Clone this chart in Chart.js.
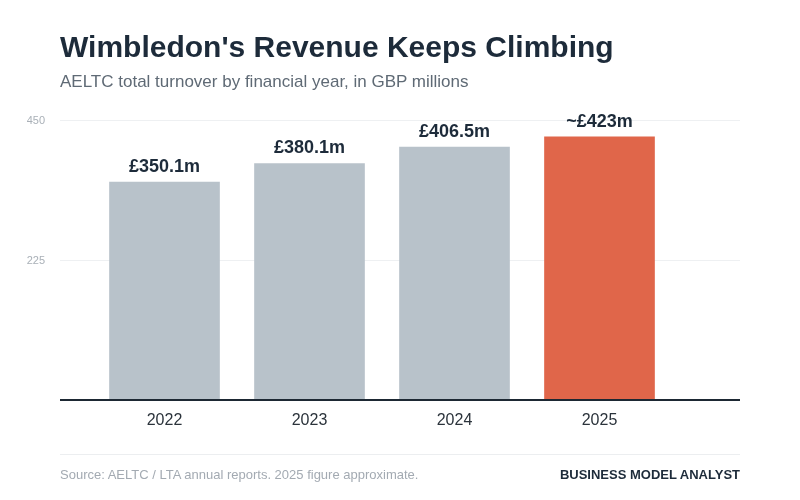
<!DOCTYPE html>
<html>
<head>
<meta charset="utf-8">
<script src="https://cdn.jsdelivr.net/npm/chart.js@4"></script>
<style>
  body { margin: 0; background: #ffffff; font-family: "Liberation Sans", Arial, sans-serif; }
  #wrap { position: relative; width: 800px; height: 500px; }
  #myChart { position: absolute; left: 0; top: 0; }
  .title { position: absolute; left: 60px; top: 30px; font-size: 30px; font-weight: bold; color: #1d2b3a; white-space: nowrap; }
  .subtitle { position: absolute; left: 60px; top: 72px; font-size: 17px; color: #5f6a75; white-space: nowrap; }
  .rule { position: absolute; left: 60px; top: 454px; width: 680px; height: 1px; background: #eceef0; }
  .source { position: absolute; left: 60px; top: 467px; font-size: 13px; color: #a3aab2; white-space: nowrap; }
  .brand { position: absolute; right: 60px; top: 467px; font-size: 13px; font-weight: bold; color: #1d2b3a; white-space: nowrap; }
</style>
</head>
<body>
<div id="wrap">
  <canvas id="myChart" width="800" height="500"></canvas>
  <div class="title">Wimbledon's Revenue Keeps Climbing</div>
  <div class="subtitle">AELTC total turnover by financial year, in GBP millions</div>
  <div class="rule"></div>
  <div class="source">Source: AELTC / LTA annual reports. 2025 figure approximate.</div>
  <div class="brand">BUSINESS MODEL ANALYST</div>
</div>
<script>
let years = ['2022', '2023', '2024', '2025'];
let revenue = [350.1, 380.1, 406.5, 423];
let valueLabels = ['£350.1m', '£380.1m', '£406.5m', '~£423m'];
let yTicks = [225, 450];
let barColors = ['#b8c2ca', '#b8c2ca', '#b8c2ca', '#e0664a'];

// grid lines + y labels drawn wide (60 -> 740), plus dark baseline
const gridPlugin = {
    id: 'wideGrid',
    beforeDatasetsDraw(chart) {
        const ctx = chart.ctx;
        const y = chart.scales.y;
        ctx.save();
        ctx.font = '11px "Liberation Sans", Arial, sans-serif';
        ctx.fillStyle = '#a9b0b7';
        ctx.textAlign = 'right';
        ctx.textBaseline = 'middle';
        for (let i = 0; i < yTicks.length; i++) {
            let py = Math.round(y.getPixelForValue(yTicks[i])) + 0.5;
            ctx.strokeStyle = '#eef0f2';
            ctx.lineWidth = 1;
            ctx.beginPath();
            ctx.moveTo(60, py);
            ctx.lineTo(740, py);
            ctx.stroke();
            ctx.fillText(String(yTicks[i]), 45, py);
        }
        ctx.restore();
    },
    afterDatasetsDraw(chart) {
        const ctx = chart.ctx;
        const y = chart.scales.y;
        let py = y.getPixelForValue(0);
        ctx.save();
        ctx.strokeStyle = '#1d2833';
        ctx.lineWidth = 2;
        ctx.beginPath();
        ctx.moveTo(60, py);
        ctx.lineTo(740, py);
        ctx.stroke();

        // value labels above bars
        const meta = chart.getDatasetMeta(0);
        ctx.font = 'bold 18px "Liberation Sans", Arial, sans-serif';
        ctx.fillStyle = '#1d2b3a';
        ctx.textAlign = 'center';
        ctx.textBaseline = 'alphabetic';
        meta.data.forEach((bar, i) => {
            ctx.fillText(valueLabels[i], bar.x, bar.y - 10);
        });
        ctx.restore();
    }
};

const ctx = document.getElementById('myChart').getContext('2d');
const myChart = new Chart(ctx, {
    type: 'bar',
    data: {
        labels: years,
        datasets: [{
            label: 'Turnover (GBP m)',
            data: revenue,
            backgroundColor: barColors,
            borderWidth: 0,
            barThickness: 110
        }]
    },
    options: {
        responsive: false,
        animation: false,
        layout: {
            padding: { left: 92, right: 128, top: 120, bottom: 0 }
        },
        plugins: {
            legend: { display: false },
            tooltip: { enabled: false }
        },
        scales: {
            x: {
                grid: { display: false },
                border: { display: false },
                ticks: {
                    color: '#2b333b',
                    font: { size: 16, family: '"Liberation Sans", Arial, sans-serif' },
                    padding: 3
                },
                afterFit(scale) { scale.height = 100; }
            },
            y: {
                display: false,
                min: 0,
                max: 450
            }
        }
    },
    plugins: [gridPlugin]
});
</script>
</body>
</html>
